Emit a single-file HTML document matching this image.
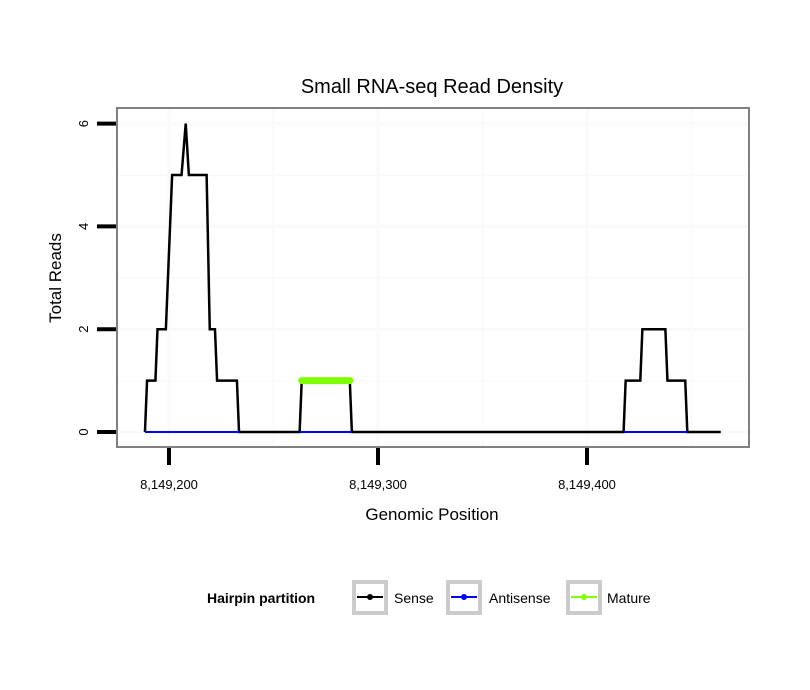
<!DOCTYPE html>
<html><head><meta charset="utf-8"><style>
body{margin:0;background:#fff}
svg{display:block;font-family:"Liberation Sans",sans-serif}
</style></head><body>
<svg id="chart" width="810" height="690" viewBox="0 0 810 690">
<rect width="810" height="690" fill="#fff"/>
<text x="432" y="93" font-size="20" text-anchor="middle">Small RNA-seq Read Density</text>
<g id="grid"></g>
<g id="series"></g>
<rect x="117" y="108" width="632" height="339" fill="none" stroke="#808080" stroke-width="2"/>
<g id="axes"></g>
<text x="432" y="520" font-size="17" text-anchor="middle">Genomic Position</text>
<text transform="translate(61,278) rotate(-90)" font-size="17" text-anchor="middle">Total Reads</text>
<g>
<text x="207" y="603" font-size="14" font-weight="bold">Hairpin partition</text>
<g>
<rect x="354" y="582" width="32" height="31" fill="#fff" stroke="#ccc" stroke-width="4"/>
<line x1="357" y1="597" x2="383" y2="597" stroke="#000" stroke-width="2"/><circle cx="370" cy="597" r="3" fill="#000"/>
<text x="394" y="603" font-size="14">Sense</text></g>
<g>
<rect x="448" y="582" width="32" height="31" fill="#fff" stroke="#ccc" stroke-width="4"/>
<line x1="451" y1="597" x2="477" y2="597" stroke="#00f" stroke-width="2"/><circle cx="464" cy="597" r="3" fill="#00f"/>
<text x="489" y="603" font-size="14">Antisense</text></g>
<g>
<rect x="568" y="582" width="32" height="31" fill="#fff" stroke="#ccc" stroke-width="4"/>
<line x1="571" y1="597" x2="597" y2="597" stroke="#7fff00" stroke-width="2"/><circle cx="584" cy="597" r="3" fill="#7fff00"/>
<text x="607" y="603" font-size="14">Mature</text></g>
</g>
</svg>
<script>
const senseX=[8149188.5,8149189.5,8149193.5,8149194.5,8149198.5,8149201.5,8149206,8149208,8149209.5,8149218,8149219.5,8149222,8149223,8149232.5,8149233.5,8149262.5,8149263.5,8149286.5,8149287.5,8149417.5,8149418.5,8149425.5,8149426.5,8149437.5,8149438.5,8149447,8149448,8149464];
const senseY=[0,1,1,2,2,5,5,6,5,5,2,2,1,1,0,0,1,1,0,0,1,1,2,2,1,1,0,0];
const antiSegments=[[8149188.5,8149233.5],[8149262.5,8149287.5],[8149417.5,8149448]];
const matureStart=[8149263.5];
const matureEnd=[8149286.5];
const matureValue=[1];
const yTicks=[0,2,4,6];
const xTicks=[8149200,8149300,8149400];
const xTickLabels=["8,149,200","8,149,300","8,149,400"];

const NS="http://www.w3.org/2000/svg";
const X=v=>169+(v-8149200)*2.09;
const Y=v=>432-v*51.4;
function mk(tag,attrs,parent){const e=document.createElementNS(NS,tag);for(const k in attrs)e.setAttribute(k,attrs[k]);parent.appendChild(e);return e;}
const grid=document.getElementById('grid'),ser=document.getElementById('series'),ax=document.getElementById('axes');
for(let v=0;v<=6;v++){const l=mk('line',{x1:118,x2:748,y1:Y(v),y2:Y(v),stroke:'#fafafa','stroke-width':v%2?2:3},grid);

}
for(let v=8149150;v<=8149450;v+=50){const px=X(v);if(px<118||px>748)continue;const l=mk('line',{x1:px,x2:px,y1:109,y2:446,stroke:'#fafafa','stroke-width':v%100?2:3},grid);

}
const sp=mk('polyline',{points:senseX.map((x,i)=>X(x)+','+Y(senseY[i])).join(' '),fill:'none',stroke:'#000','stroke-width':2.5,'stroke-linejoin':'miter'},ser);


antiSegments.forEach(s=>{const l=mk('line',{x1:X(s[0]),x2:X(s[1]),y1:Y(0),y2:Y(0),stroke:'#00f','stroke-width':2},ser);

});
matureStart.forEach((s,i)=>{const l=mk('line',{x1:X(s),x2:X(matureEnd[i]),y1:Y(matureValue[i]),y2:Y(matureValue[i]),stroke:'#7fff00','stroke-width':7,'stroke-linecap':'round'},ser);

});
yTicks.forEach(v=>{const t=mk('line',{x1:97,x2:116,y1:Y(v),y2:Y(v),stroke:'#000','stroke-width':4},ax);


const tx=mk('text',{transform:`translate(88,${Y(v)}) rotate(-90)`,'font-size':13,'text-anchor':'middle'},ax);tx.textContent=v;

});
xTicks.forEach((v,i)=>{const t=mk('line',{x1:X(v),x2:X(v),y1:448,y2:465,stroke:'#000','stroke-width':4},ax);


const tx=mk('text',{x:X(v),y:489,'font-size':13,'text-anchor':'middle'},ax);tx.textContent=xTickLabels[i];

});
</script>
</body></html>
